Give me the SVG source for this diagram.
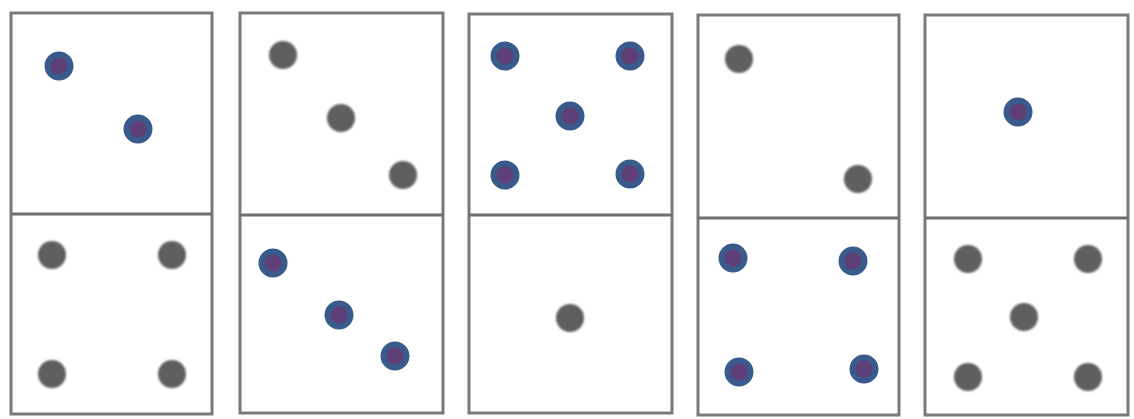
<svg xmlns="http://www.w3.org/2000/svg" width="1134" height="419" viewBox="0 0 1134 419">
<defs>
<style>
.tile{fill:#ffffff;stroke:#7a7a7a;stroke-width:3}
.div{stroke:#6e6e6e;stroke-width:3}
.pip{fill:#5e5e62;filter:url(#soft)}
.mk{fill:#5e3f78;stroke:#385b8b;stroke-width:6}
</style>
<filter id="soft" x="-30%" y="-30%" width="160%" height="160%"><feGaussianBlur stdDeviation="1"/></filter>
</defs>
<rect width="1134" height="419" fill="#ffffff"/>
<g id="tile1">
<rect class="tile" x="11" y="13" width="201" height="401"/>
<line class="div" x1="11" y1="214" x2="212" y2="214"/>
<circle class="mk" cx="59" cy="66" r="11.5"/>
<circle class="mk" cx="138" cy="129" r="11.5"/>
<circle class="pip" cx="52" cy="255" r="14"/>
<circle class="pip" cx="172" cy="255" r="14"/>
<circle class="pip" cx="52" cy="374" r="14"/>
<circle class="pip" cx="172" cy="374" r="14"/>
</g>
<g id="tile2">
<rect class="tile" x="240" y="13" width="203" height="400"/>
<line class="div" x1="240" y1="215" x2="443" y2="215"/>
<circle class="pip" cx="283" cy="55" r="14"/>
<circle class="pip" cx="341" cy="118" r="14"/>
<circle class="pip" cx="403" cy="175" r="14"/>
<circle class="mk" cx="273" cy="263" r="11.5"/>
<circle class="mk" cx="339" cy="315" r="11.5"/>
<circle class="mk" cx="395" cy="356" r="11.5"/>
</g>
<g id="tile3">
<rect class="tile" x="469" y="14" width="203" height="399"/>
<line class="div" x1="469" y1="215" x2="672" y2="215"/>
<circle class="mk" cx="505" cy="56" r="11.5"/>
<circle class="mk" cx="630" cy="56" r="11.5"/>
<circle class="mk" cx="570" cy="116" r="11.5"/>
<circle class="mk" cx="505" cy="175" r="11.5"/>
<circle class="mk" cx="630" cy="174" r="11.5"/>
<circle class="pip" cx="570" cy="318" r="14"/>
</g>
<g id="tile4">
<rect class="tile" x="698" y="15" width="201" height="400"/>
<line class="div" x1="698" y1="218" x2="899" y2="218"/>
<circle class="pip" cx="739" cy="59" r="14"/>
<circle class="pip" cx="858" cy="179" r="14"/>
<circle class="mk" cx="733" cy="258" r="11.5"/>
<circle class="mk" cx="853" cy="261" r="11.5"/>
<circle class="mk" cx="739" cy="372" r="11.5"/>
<circle class="mk" cx="864" cy="369" r="11.5"/>
</g>
<g id="tile5">
<rect class="tile" x="925" y="15" width="203" height="400"/>
<line class="div" x1="925" y1="218" x2="1128" y2="218"/>
<circle class="mk" cx="1018" cy="112" r="11.5"/>
<circle class="pip" cx="968" cy="259" r="14"/>
<circle class="pip" cx="1088" cy="259" r="14"/>
<circle class="pip" cx="1024" cy="317" r="14"/>
<circle class="pip" cx="968" cy="377" r="14"/>
<circle class="pip" cx="1088" cy="377" r="14"/>
</g>
</svg>
